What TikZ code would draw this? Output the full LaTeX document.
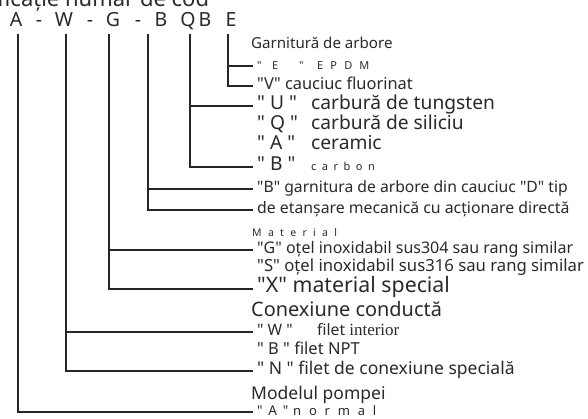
\documentclass[tikz,border=0pt]{standalone}
\usepackage{fontspec}
\newfontfamily\notosans{Noto Sans}
\newfontfamily\serifword{Liberation Serif}
\usetikzlibrary{positioning}
\definecolor{inkline}{HTML}{262626}
\definecolor{inktext}{HTML}{2A2A2A}
\newcommand\fsz[1]{\fontsize{#1}{#1}\selectfont}
\newcommand\spaced[3][60]{{\fsz{#2}\addfontfeature{LetterSpace=#1}#3}}
\newcommand\quoted[2]{\makebox[#1][l]{#2}}
\tikzset{
  codechar/.style={
    anchor=base, inner sep=0pt,
    font=\fsz{19.5}, text=inktext
  },
  head/.style={
    anchor=west, inner sep=0pt,
    text height=0.72em, text depth=0pt, text=inktext
  },
  item/.style={
    anchor=west, inner xsep=4pt, inner ysep=0pt,
    text height=0.72em, text depth=0pt, text=inktext
  },
  branch/.style={
    draw=inkline, line width=1.1pt
  },
}

\begin{document}
\notosans
\begin{tikzpicture}[x=1pt, y=-1pt]
\useasboundingbox[fill=white] (0,0) rectangle (588,419);
\clip (0,0) rectangle (588,419);

% title, cut off by the top edge
\node[anchor=base west, inner sep=0pt, font=\fsz{22}, text=inktext]
  (title) at (-3,7) {ficație număr de cod};

% code letters
\node[codechar] (cA)  at ( 16,27) {A};
\node[codechar] (d1)  at ( 39,27) {-};
\node[codechar] (cW)  at ( 64,27) {W};
\node[codechar] (d2)  at ( 90,27) {-};
\node[codechar] (cG)  at (113,27) {G};
\node[codechar] (d3)  at (138,27) {-};
\node[codechar] (cB)  at (161,27) {B};
\node[codechar] (cQ)  at (188,27) {Q};
\node[codechar] (cB2) at (205,27) {B};
\node[codechar] (cE)  at (231,27) {E};

\coordinate (topA) at ( 18,34);
\coordinate (topW) at ( 66,34);
\coordinate (topG) at (109,34);
\coordinate (topB) at (148,34);
\coordinate (topQ) at (190,34);
\coordinate (topE) at (228,34);

% shaft seal
\node[head, font=\fsz{15.1}] (hSeal) at (251,45) {Garnitură de arbore};
\node[item] (lE) at (253,66)
  {\spaced[65]{11}{\quoted{15pt}{"}\quoted{27pt}{E}\quoted{18pt}{"}EPDM}};
\node[item, font=\fsz{16.4}] (lV) at (253,86) {"V" cauciuc fluorinat};

% face material
\node[item, font=\fsz{19.2}] (lU) at (253,106) {\quoted{54pt}{" U "}carbură de tungsten};
\node[item, font=\fsz{19.2}] (lQ) at (253,126) {\quoted{54pt}{" Q "}carbură de siliciu};
\node[item, font=\fsz{19.2}] (lAc) at (253,146) {\quoted{54pt}{" A "}ceramic};
\node[item, font=\fsz{19.2}] (lBc) at (253,167) {\quoted{54pt}{" B "}\spaced[50]{11}{carbon}};

% seal type
\node[item, font=\fsz{15.7}] (lBg) at (253,189) {"B" garnitura de arbore din cauciuc "D" tip};
\node[item, font=\fsz{15.8}] (lDe) at (253,210) {de etanșare mecanică cu acționare directă};

% material
\node[head] (hMat) at (252,233) {\spaced{10.5}{Material}};
\node[item, font=\fsz{16}] (lG) at (253,250) {"G" oțel inoxidabil sus304 sau rang similar};
\node[item, font=\fsz{16.7}] (lS) at (253,268) {"S" oțel inoxidabil sus316 sau rang similar};
\node[item, font=\fsz{21.3}] (lX) at (253,289) {"X" material special};

% pipe connection
\node[head, font=\fsz{19.9}] (hPipe) at (251,313) {Conexiune conductă};
\node[item, font=\fsz{15.7}] (lW) at (253,332) {\quoted{60pt}{" W "}filet {\serifword\fsz{17}interior}};
\node[item, font=\fsz{16.5}] (lBn) at (253,351) {" B " filet NPT};
\node[item, font=\fsz{17.5}] (lN) at (253,371) {" N " filet de conexiune specială};

% pump model
\node[head, font=\fsz{17.5}] (hModel) at (251,396) {Modelul pompei};
\node[item, font=\fsz{13.5}] (lA) at (253,412)
  {\quoted{36pt}{"\ \,A\ \,"}\spaced{13}{normal}};

% branches
\foreach \t/\n in {topE/lE, topE/lV, topQ/lU, topQ/lBc, topB/lBg, topB/lDe,
                   topG/lG, topG/lX, topW/lW, topW/lN, topA/lA} {
  \draw[branch] (\t) |- (\n.west);
}

\end{tikzpicture}
\end{document}
